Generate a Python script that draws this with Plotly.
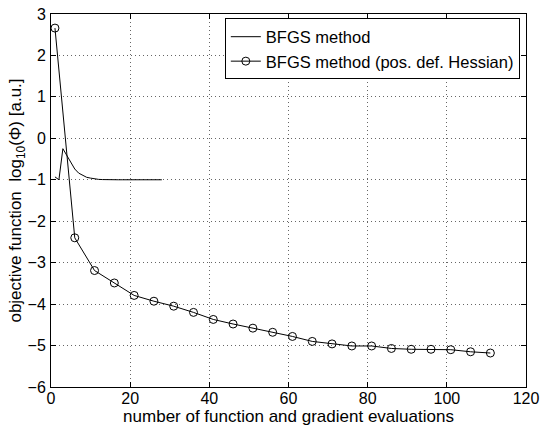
import plotly.graph_objects as go

# BFGS method (plain line)
bfgs_x = list(range(1, 29))
bfgs_y = [-0.93, -1.00, -0.25, -0.42, -0.60, -0.74, -0.84, -0.90, -0.94, -0.96,
          -0.98, -0.99, -0.995, -1.0, -1.0, -1.0, -1.0, -1.0, -1.0, -1.0,
          -1.0, -1.0, -1.0, -1.0, -1.0, -1.0, -1.0, -1.0]

# BFGS method with positive definite Hessian (circles)
pd_x = list(range(1, 112, 5))
pd_y = [2.66, -2.40, -3.19, -3.49, -3.79, -3.93, -4.05, -4.20, -4.37, -4.48,
        -4.58, -4.68, -4.78, -4.90, -4.96, -5.01, -5.01, -5.07, -5.09, -5.09,
        -5.10, -5.15, -5.18]

x_ticks = [0, 20, 40, 60, 80, 100, 120]
y_ticks = [-6, -5, -4, -3, -2, -1, 0, 1, 2, 3]

FONT = 'Liberation Sans, Arial, Helvetica, sans-serif'

fig = go.Figure()
fig.add_trace(go.Scatter(x=bfgs_x, y=bfgs_y, mode='lines', name='BFGS method',
                         line=dict(color='black', width=1)))
fig.add_trace(go.Scatter(x=pd_x, y=pd_y, mode='lines+markers',
                         name='BFGS method (pos. def. Hessian)',
                         line=dict(color='black', width=1),
                         marker=dict(symbol='circle-open', size=8,
                                     color='black', line=dict(width=1))))

axis_style = dict(showline=True, linecolor='black', linewidth=1, mirror='ticks',
                  ticks='inside', ticklen=5, tickcolor='black',
                  showgrid=True, gridcolor='#666', griddash='1px,3px', gridwidth=1,
                  zeroline=False, automargin=False,
                  tickfont=dict(size=16, color='black'))

fig.update_xaxes(range=[0, 120], tickvals=x_ticks, ticklabelstandoff=-3,
                 title=dict(text='number of function and gradient evaluations',
                            font=dict(size=17, color='black'), standoff=0),
                 **axis_style)
fig.update_yaxes(range=[-6, 3], tickvals=y_ticks, ticklabelstandoff=1,
                 title=dict(text='objective function  log<sub>10</sub>(\u03a6) [a.u.]',
                            font=dict(size=17, color='black'), standoff=0),
                 **axis_style)

fig.update_layout(
    width=541, height=428,
    margin=dict(l=51, r=15, t=14, b=41),
    paper_bgcolor='white', plot_bgcolor='white',
    font=dict(family=FONT, color='black'),
    showlegend=True,
    legend=dict(x=0.987, y=0.988, xanchor='right', yanchor='top',
                bgcolor='white', bordercolor='black', borderwidth=1,
                font=dict(size=16.5), tracegroupgap=0,
                itemwidth=30),
)

# drop the default page margin so the 541x428 figure fills the window
fig.write_html("out.html", config={'displayModeBar': False},
               post_script="document.body.style.margin='0';"
                           "document.body.style.overflow='hidden';")
